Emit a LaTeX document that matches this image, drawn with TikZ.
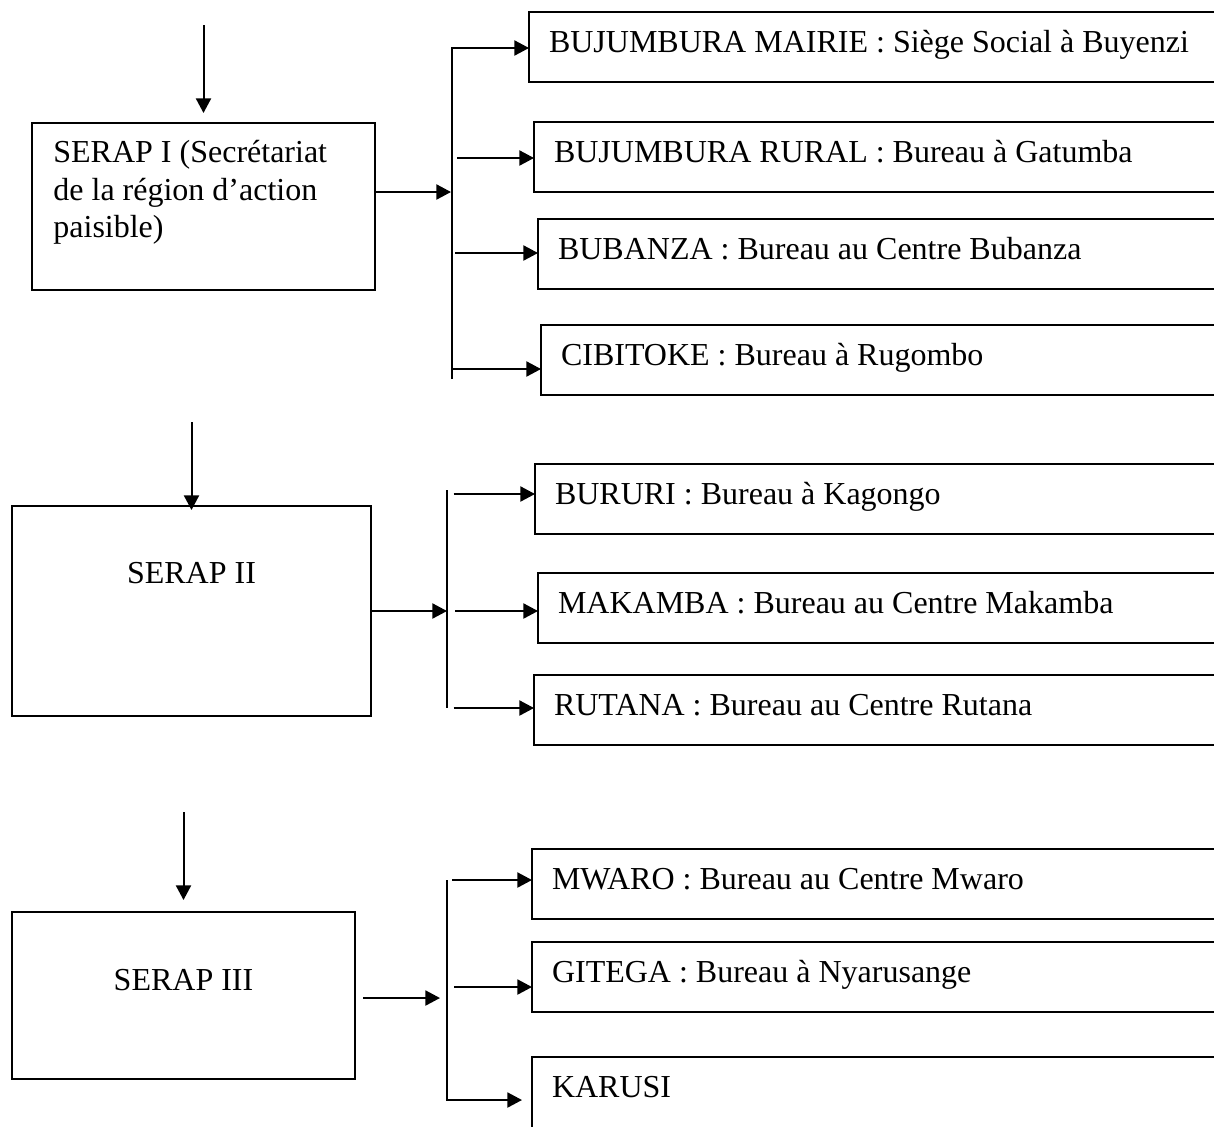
\documentclass[tikz,border=0pt]{standalone}
\usepackage{fontspec}
\setmainfont{Liberation Serif}
\usetikzlibrary{arrows.meta}
\tikzset{
	flow/.style={line width=1pt,-{Triangle[length=7.3pt,width=7.5pt]}},
	trunk/.style={line width=1pt},
	serapbox/.style={draw,line width=1pt,anchor=north west,inner sep=0pt,outer sep=0pt},
	officebox/.style={draw,line width=1pt,anchor=north west,inner xsep=10pt,inner ysep=0pt,outer sep=0pt,
		text width=340pt,align=flush left,minimum height=35pt,text height=11pt,text depth=6pt},
}
\begin{document}
\begin{tikzpicture}[x=0.5pt,y=-0.5pt,font=\fontsize{16pt}{18.75pt}\selectfont]
				\clip (0,0) rectangle (1214,1126);
				% SERAP I
				\node[serapbox,minimum width=171.5pt,minimum height=83.5pt,at={(32,123)}] (serap1) {};
				\node[anchor=north west,align=flush left,inner sep=0pt,at={(53,140)}] (serap1txt) {SERAP I (Secrétariat\\de la région d’action\\paisible)};
				\node[officebox,at={(529,12)}] (mairie) {BUJUMBURA MAIRIE : Siège Social à Buyenzi};
				\node[officebox,at={(534,122)}] (rural) {BUJUMBURA RURAL : Bureau à Gatumba};
				\node[officebox,at={(538,219)}] (bubanza) {BUBANZA : Bureau au Centre Bubanza};
				\node[officebox,at={(541,325)}] (cibitoke) {CIBITOKE : Bureau à Rugombo};
				\coordinate (in1) at (203.5,25);
				\coordinate (j1) at (451,192);
				\coordinate (bar1a) at (452,48);
				\coordinate (bar1b) at (452,379);
				\coordinate (s12) at (457,158);
				\coordinate (s13) at (455,253);
				\coordinate (s14) at (453,369);
				\draw[flow] (in1) -- ([yshift=5pt]serap1.north);
				\draw[flow] (serap1.east |- j1) -- (j1);
				\draw[flow] (bar1b) -- (bar1a) -- (mairie.west |- bar1a);
				\draw[flow] (s12) -- (rural.west |- s12);
				\draw[flow] (s13) -- (bubanza.west |- s13);
				\draw[flow] (s14) -- (cibitoke.west |- s14);
				% SERAP II
				\node[serapbox,minimum width=179.5pt,minimum height=105pt,at={(12,506)}] (serap2) {};
				\node[anchor=base,at={(191.5,583)}] (serap2txt) {SERAP II};
				\node[officebox,at={(535,464)}] (bururi) {BURURI : Bureau à Kagongo};
				\node[officebox,at={(538,573)}] (makamba) {MAKAMBA : Bureau au Centre Makamba};
				\node[officebox,at={(534,675)}] (rutana) {RUTANA : Bureau au Centre Rutana};
				\coordinate (in2) at (191.5,422);
				\coordinate (j2) at (447,611);
				\coordinate (bar2a) at (447,490);
				\coordinate (bar2b) at (447,708);
				\coordinate (s21) at (453.5,494);
				\coordinate (s22) at (455,611);
				\coordinate (s23) at (453.5,708);
				\draw[flow] (in2) -- ([yshift=-2pt]serap2.north);
				\draw[flow] (serap2.east) -- (j2);
				\draw[trunk] (bar2a) -- (bar2b);
				\draw[flow] (s21) -- (bururi.west |- s21);
				\draw[flow] (s22) -- (makamba.west |- s22);
				\draw[flow] (s23) -- (rutana.west |- s23);
				% SERAP III
				\node[serapbox,minimum width=171.5pt,minimum height=83.5pt,at={(12,912)}] (serap3) {};
				\node[anchor=base,at={(183.5,990)}] (serap3txt) {SERAP III};
				\node[officebox,at={(532,849)}] (mwaro) {MWARO : Bureau au Centre Mwaro};
				\node[officebox,at={(532,942)}] (gitega) {GITEGA : Bureau à Nyarusange};
				\node[officebox,minimum height=40pt,text depth=11pt,at={(532,1057)}] (karusi) {KARUSI};
				\coordinate (in3) at (183.5,812);
				\coordinate (e3) at ([xshift=4pt]serap3.east);
				\coordinate (j3) at (440,998);
				\coordinate (bar3a) at (447,880);
				\coordinate (bar3b) at (447,1100);
				\coordinate (s31) at (452,880);
				\coordinate (s32) at (454,987);
				\coordinate (k3) at ([xshift=-5pt]karusi.west |- bar3b);
				\draw[flow] (in3) -- ([yshift=6pt]serap3.north);
				\draw[flow] (e3 |- j3) -- (j3);
				\draw[flow] (bar3a) -- (bar3b) -- (k3);
				\draw[flow] (s31) -- (mwaro.west |- s31);
				\draw[flow] (s32) -- (gitega.west |- s32);
				\end{tikzpicture}
\end{document}
